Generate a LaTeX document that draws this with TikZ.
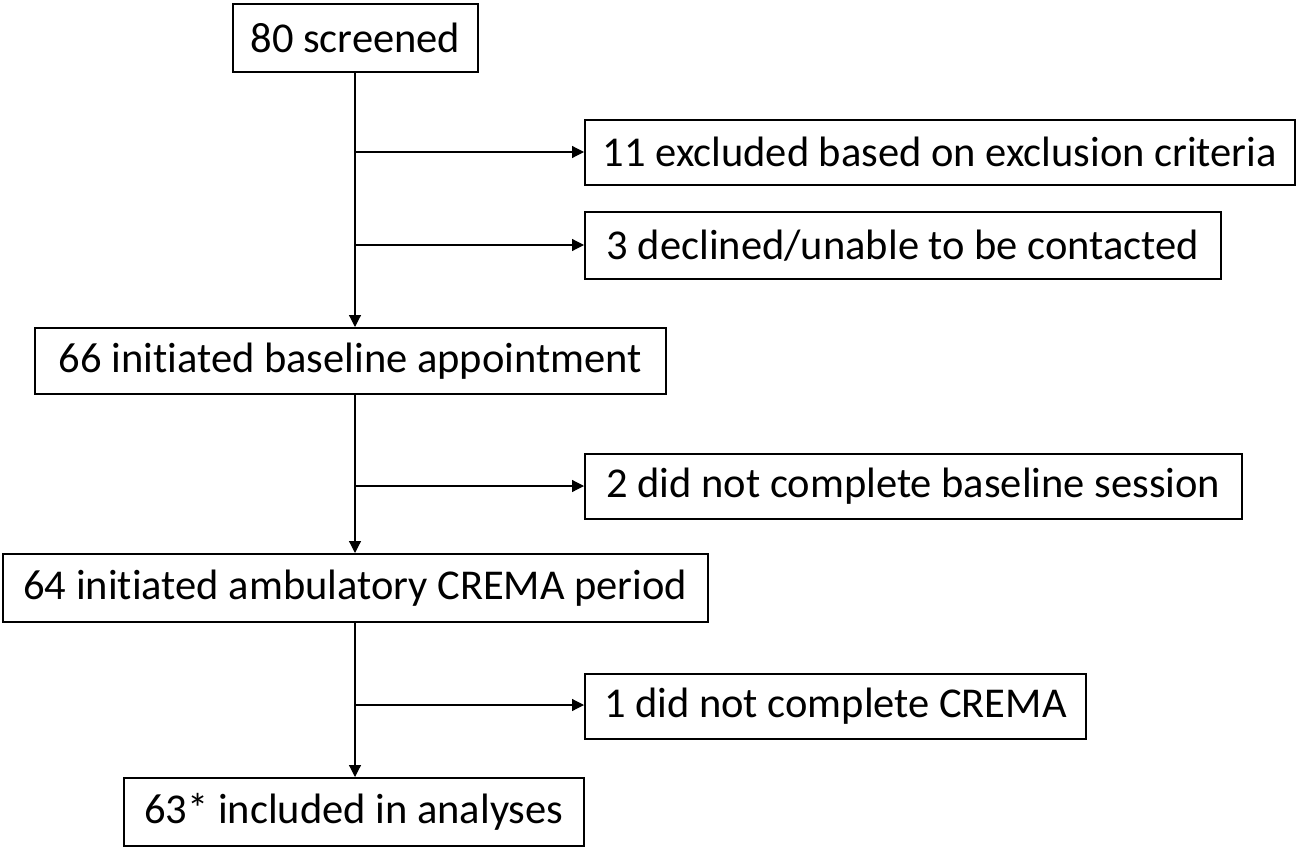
\documentclass[tikz,border=0pt]{standalone}
\usepackage{fontspec}
\setmainfont{Carlito}[Ligatures={NoCommon}]
\usetikzlibrary{arrows.meta}
\begin{document}
\begin{tikzpicture}[x=1pt,y=-1pt,
  box/.style={draw=black,line width=1.8pt,inner sep=0pt,font=\fontsize{42.5}{48}\selectfont,anchor=north west},
  conn/.style={draw=black,line width=1.2pt,-{Triangle[length=12pt,width=12pt]}}]
\useasboundingbox (0,0) rectangle (1303,848);
\node[box,minimum width=245pt,minimum height=68pt] (b80) at (232,3) {80 screened};
\node[box,minimum width=710pt,minimum height=65pt] (b11) at (584,119) {11 excluded based on exclusion criteria};
\node[box,minimum width=636pt,minimum height=67pt] (b3) at (584,211) {3 declined/unable to be contacted};
\node[box,minimum width=631pt,minimum height=66pt] (b66) at (34,327) {66 initiated baseline appointment};
\node[box,minimum width=657pt,minimum height=65pt] (b2) at (584,453) {2 did not complete baseline session};
\node[box,minimum width=705pt,minimum height=68pt] (b64) at (2,553) {64 initiated ambulatory CREMA period};
\node[box,minimum width=501pt,minimum height=65pt] (b1) at (584,673) {1 did not complete CREMA};
\node[box,minimum width=460pt,minimum height=68pt] (b63) at (123,777) {63* included in analyses};
\coordinate (j11) at (355,152);
\coordinate (j3) at (355,245);
\coordinate (j2) at (355,486);
\coordinate (j1) at (355,705);
\draw[conn] (b80.south -| j11) -- (b66.north -| j11);
\draw[conn] (b66.south -| j11) -- (b64.north -| j11);
\draw[conn] (b64.south -| j11) -- (b63.north -| j11);
\draw[conn] (j11) -- (b11.west |- j11);
\draw[conn] (j3) -- (b3.west |- j3);
\draw[conn] (j2) -- (b2.west |- j2);
\draw[conn] (j1) -- (b1.west |- j1);
\end{tikzpicture}
\end{document}
